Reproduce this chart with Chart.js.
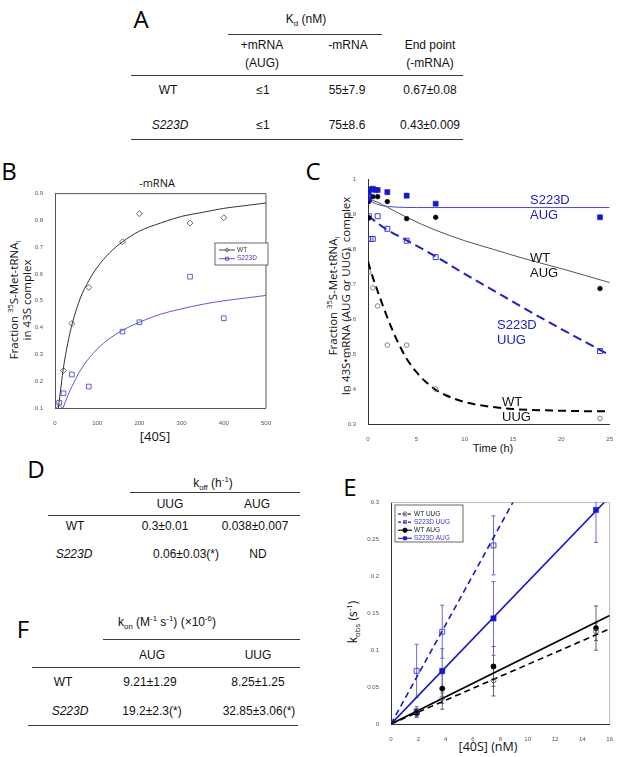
<!DOCTYPE html>
<html>
<head>
<meta charset="utf-8">
<script src="https://cdn.jsdelivr.net/npm/chart.js@4.4.0/dist/chart.umd.min.js"></script>
<style>
body{margin:0;background:#fff;}
#page{position:relative;width:617px;height:757px;overflow:hidden;font-family:'Liberation Sans',Arial,sans-serif;color:#111;}
.t{position:absolute;transform:translate(-50%,-50%);white-space:nowrap;font-size:12px;line-height:18px;text-align:center;}
.L{position:absolute;transform:translate(-50%,-50%);font:24px 'Open Sans',sans-serif;line-height:1;color:#000;}
.r{position:absolute;height:0;border-top:1.6px solid #3a3a3a;}
.cv{position:absolute;}
.rot{position:absolute;transform:translate(-50%,-50%) rotate(-90deg);font-family:'Open Sans',sans-serif;line-height:13px;text-align:center;white-space:nowrap;}
.lb{position:absolute;transform:translateY(-50%);font-size:13px;line-height:15px;white-space:nowrap;}
.blue{color:#2020c4;}
sup,sub{font-size:0.65em;line-height:0;}
</style>
</head>
<body>
<div id="page">

<!-- A -->
<div class="L" style="left:141px;top:19px">A</div>
<div class="t" style="left:306px;top:19px">K<sub>d</sub> (nM)</div>
<div class="r" style="left:228px;top:34px;width:154px"></div>
<div class="t" style="left:262px;top:54px">+mRNA<br>(AUG)</div>
<div class="t" style="left:348px;top:45px">-mRNA</div>
<div class="t" style="left:430px;top:54px">End point<br>(-mRNA)</div>
<div class="r" style="left:131px;top:75px;width:332px"></div>
<div class="t" style="left:168px;top:90px">WT</div>
<div class="t" style="left:263px;top:90px">≤1</div>
<div class="t" style="left:347px;top:90px">55±7.9</div>
<div class="t" style="left:430px;top:90px">0.67±0.08</div>
<div class="t" style="left:170px;top:125px"><i>S223D</i></div>
<div class="t" style="left:263px;top:125px">≤1</div>
<div class="t" style="left:347px;top:125px">75±8.6</div>
<div class="t" style="left:430px;top:125px">0.43±0.009</div>
<div class="r" style="left:131px;top:139px;width:332px"></div>

<!-- B -->
<div class="L" style="left:9px;top:171px">B</div>
<div class="t" style="left:157px;top:183px;font-family:'Open Sans';font-size:11px">-mRNA</div>
<div class="rot" style="left:20px;top:300px;width:160px;height:26px;font-size:11.5px">Fraction <sup>35</sup>S-Met-tRNA<sub>i</sub><br>in 43S complex</div>
<div class="t" style="left:155px;top:436px;font-family:'Open Sans';font-size:13px">[40S]</div>
<canvas id="cB" class="cv" width="250" height="242" style="left:25px;top:186px;width:250px;height:242px"></canvas>

<!-- C -->
<div class="L" style="left:313px;top:171px">C</div>
<div class="rot" style="left:339px;top:296px;width:240px;height:26px;font-size:11.5px">Fraction <sup>35</sup>S-Met-tRNA<sub>i</sub><br>In 43S•mRNA (AUG or UUG)&nbsp; complex</div>
<div class="t" style="left:493px;top:448px;font-size:11px">Time (h)</div>
<canvas id="cC" class="cv" width="277" height="272" style="left:340px;top:172px;width:277px;height:272px"></canvas>
<div class="lb blue" style="left:530px;top:199px">S223D</div>
<div class="lb blue" style="left:530px;top:214px">AUG</div>
<div class="lb" style="left:530px;top:257px">WT</div>
<div class="lb" style="left:530px;top:272px">AUG</div>
<div class="lb blue" style="left:497px;top:324px">S223D</div>
<div class="lb blue" style="left:497px;top:339px">UUG</div>
<div class="lb" style="left:502px;top:401px">WT</div>
<div class="lb" style="left:502px;top:416px">UUG</div>

<!-- D -->
<div class="L" style="left:36px;top:469px">D</div>
<div class="t" style="left:213px;top:483px">k<sub>off</sub> (h<sup>-1</sup>)</div>
<div class="r" style="left:130px;top:492px;width:170px"></div>
<div class="t" style="left:170px;top:504px">UUG</div>
<div class="t" style="left:257px;top:504px">AUG</div>
<div class="r" style="left:48px;top:515px;width:252px"></div>
<div class="t" style="left:75px;top:526px">WT</div>
<div class="t" style="left:165px;top:526px">0.3±0.01</div>
<div class="t" style="left:255px;top:526px">0.038±0.007</div>
<div class="t" style="left:74px;top:554px"><i>S223D</i></div>
<div class="t" style="left:186px;top:554px">0.06±0.03(*)</div>
<div class="t" style="left:258px;top:554px">ND</div>

<!-- E -->
<div class="L" style="left:350px;top:487px">E</div>
<div class="rot" style="left:353px;top:622px;width:70px;height:14px;font-size:12px">k<sub>obs</sub> (s<sup>-1</sup>)</div>
<div class="t" style="left:488px;top:747px;font-family:'Open Sans';font-size:12.5px">[40S] (nM)</div>
<canvas id="cE" class="cv" width="254" height="249" style="left:363px;top:495px;width:254px;height:249px"></canvas>

<!-- F -->
<div class="L" style="left:23px;top:629px">F</div>
<div class="t" style="left:167px;top:622px">k<sub>on</sub> (M<sup>-1</sup> s<sup>-1</sup>) (×10<sup>-6</sup>)</div>
<div class="r" style="left:103px;top:639px;width:197px"></div>
<div class="t" style="left:152px;top:655px">AUG</div>
<div class="t" style="left:258px;top:655px">UUG</div>
<div class="r" style="left:32px;top:667px;width:268px"></div>
<div class="t" style="left:63px;top:682px">WT</div>
<div class="t" style="left:150px;top:682px">9.21±1.29</div>
<div class="t" style="left:258px;top:682px">8.25±1.25</div>
<div class="t" style="left:70px;top:711px"><i>S223D</i></div>
<div class="t" style="left:152px;top:711px">19.2±2.3(*)</div>
<div class="t" style="left:259px;top:711px">32.85±3.06(*)</div>
<div class="r" style="left:28px;top:725px;width:270px"></div>

</div>
<script>
// ---- B: fraction in 43S vs [40S], no mRNA
var bWtX = [10, 20, 40, 80, 160, 200, 320, 400];
var bWtY = [0.10, 0.24, 0.415, 0.55, 0.72, 0.825, 0.79, 0.81];
var bMutX = [10, 20, 40, 80, 160, 200, 320, 400];
var bMutY = [0.12, 0.155, 0.225, 0.18, 0.385, 0.42, 0.59, 0.435];
var bWtFitX = [8, 15, 20, 30, 40, 60, 80, 100, 130, 160, 200, 250, 300, 350, 400, 450, 500];
var bWtFitY = [0.10, 0.19, 0.25, 0.34, 0.41, 0.51, 0.575, 0.625, 0.68, 0.72, 0.76, 0.79, 0.815, 0.83, 0.845, 0.855, 0.865];
var bMutFitX = [19, 30, 40, 60, 80, 100, 130, 160, 200, 250, 300, 350, 400, 450, 500];
var bMutFitY = [0.10, 0.145, 0.18, 0.24, 0.285, 0.32, 0.36, 0.39, 0.42, 0.45, 0.47, 0.487, 0.50, 0.51, 0.52];

// ---- C: dissociation time course (h)
var cMutAugT = [0.083, 0.1, 0.25, 0.5, 0.75, 1, 2, 4, 7, 24];
var cMutAugY = [0.962, 0.945, 0.972, 0.974, 0.97, 0.97, 0.964, 0.954, 0.931, 0.892];
var cWtAugT = [0.083, 0.083, 0.5, 1, 2, 4, 7, 24];
var cWtAugY = [0.937, 0.89, 0.951, 0.951, 0.937, 0.888, 0.892, 0.688];
var cMutUugT = [0.083, 0.25, 0.5, 1, 2, 4, 7, 24];
var cMutUugY = [0.895, 0.83, 0.83, 0.895, 0.859, 0.825, 0.778, 0.509];
var cWtUugT = [0.083, 0.083, 0.5, 1, 2, 4, 7, 24];
var cWtUugY = [0.83, 0.735, 0.69, 0.638, 0.526, 0.526, 0.40, 0.316];
var cMutAugFitT = [0, 0.5, 1, 1.5, 2, 3, 5, 25];
var cMutAugFitY = [0.945, 0.935, 0.929, 0.925, 0.923, 0.921, 0.92, 0.92];
var cWtAugFitT = [0, 1, 2, 4, 7, 10, 13, 16, 20, 25];
var cWtAugFitY = [0.945, 0.935, 0.921, 0.892, 0.855, 0.825, 0.80, 0.775, 0.745, 0.705];
var cMutUugFitT = [0, 1, 2, 4, 7, 10, 13, 16, 20, 24.7];
var cMutUugFitY = [0.897, 0.875, 0.856, 0.826, 0.78, 0.73, 0.682, 0.634, 0.572, 0.502];
var cWtUugFitT = [0, 0.5, 1, 2, 3, 4, 5, 6, 7, 8, 10, 12, 15, 20, 25];
var cWtUugFitY = [0.765, 0.72, 0.68, 0.605, 0.54, 0.487, 0.449, 0.42, 0.398, 0.383, 0.363, 0.352, 0.343, 0.338, 0.336];

// ---- E: kobs vs [40S] (nM)
var eConc = [1.875, 3.75, 7.5, 15];
var eWtUug = [0.017, 0.035, 0.059, 0.125];
var eWtUugErr = [0.004, 0.015, 0.021, 0.012];
var eWtAug = [0.015, 0.048, 0.078, 0.13];
var eWtAugErr = [0.005, 0.02, 0.027, 0.03];
var eMutUugConc = [1.875, 3.75, 7.5];
var eMutUug = [0.072, 0.125, 0.242];
var eMutUugErr = [0.036, 0.036, 0.04];
var eMutAug = [0.016, 0.072, 0.143, 0.29];
var eMutAugErr = [0.0075, 0.03, 0.05, 0.044];
var eFitX = [0, 16];
var eWtUugFit = [0, 0.129];
var eWtAugFit = [0, 0.147];
var eMutUugFitX = [0, 9];
var eMutUugFit = [0, 0.303];
var eMutAugFit = [0, 0.308];

var BLUE = '#1818c8';
var BLUE2 = '#3a3ad2';
Chart.defaults.font.family = 'Liberation Sans';

function pts(xs, ys) {
    return xs.map(function (x, i) { return {x: x, y: ys[i]}; });
}

function mark(ctx, style, x, y, r, fill, stroke, lw) {
    ctx.beginPath();
    if (style === 'circle') {
        ctx.arc(x, y, r, 0, Math.PI * 2);
    } else if (style === 'rect') {
        var s = r * 0.707;
        ctx.rect(x - s, y - s, 2 * s, 2 * s);
    } else {
        ctx.moveTo(x, y - r); ctx.lineTo(x + r, y); ctx.lineTo(x, y + r); ctx.lineTo(x - r, y); ctx.closePath();
    }
    ctx.fillStyle = fill; ctx.fill();
    ctx.strokeStyle = stroke; ctx.lineWidth = lw; ctx.stroke();
}

// legend box drawn inside the plot
function boxLegend(o) {
    return {
        id: 'boxLegend',
        afterDraw: function (chart) {
            var ctx = chart.ctx, ds = chart.data.datasets;
            ctx.save();
            ctx.fillStyle = '#fff';
            ctx.fillRect(o.x, o.y, o.w, o.h);
            ctx.strokeStyle = o.frame; ctx.lineWidth = 0.8;
            ctx.strokeRect(o.x, o.y, o.w, o.h);
            ctx.font = o.font;
            ctx.textBaseline = 'middle';
            o.items.forEach(function (it, i) {
                var y = o.y + o.first + i * o.rowH;
                var ln = ds[it.line], pt = ds[it.mark];
                ctx.setLineDash(ln.borderDash ? o.dash : []);
                ctx.strokeStyle = ln.borderColor; ctx.lineWidth = o.lw;
                ctx.beginPath(); ctx.moveTo(o.x + o.l0, y); ctx.lineTo(o.x + o.l1, y); ctx.stroke();
                ctx.setLineDash([]);
                mark(ctx, pt.pointStyle, o.x + (o.l0 + o.l1) / 2, y, o.r, pt.backgroundColor, pt.borderColor, 0.8);
                ctx.fillStyle = it.color;
                ctx.fillText(it.text, o.x + o.tx, y);
            });
            ctx.restore();
        }
    };
}

// top/right frame lines
function frame(color) {
    return {
        id: 'frame',
        beforeDatasetsDraw: function (chart) {
            var a = chart.chartArea, ctx = chart.ctx;
            ctx.save();
            ctx.strokeStyle = color; ctx.lineWidth = 1;
            ctx.beginPath();
            ctx.moveTo(a.left, a.top); ctx.lineTo(a.right, a.top); ctx.lineTo(a.right, a.bottom);
            ctx.stroke();
            ctx.restore();
        }
    };
}

var errorBars = {
    id: 'errorBars',
    beforeDatasetsDraw: function (chart) {
        var ctx = chart.ctx, xs = chart.scales.x, ys = chart.scales.y, a = chart.chartArea;
        ctx.save();
        ctx.beginPath(); ctx.rect(a.left, a.top - 1, a.right - a.left, a.bottom - a.top + 1); ctx.clip();
        chart.data.datasets.forEach(function (ds) {
            if (!ds.errors) return;
            ctx.strokeStyle = ds.errColor; ctx.lineWidth = 0.9;
            ds.data.forEach(function (p, j) {
                var x = xs.getPixelForValue(p.x);
                var y0 = ys.getPixelForValue(p.y - ds.errors[j]);
                var y1 = ys.getPixelForValue(p.y + ds.errors[j]);
                ctx.beginPath();
                ctx.moveTo(x, y0); ctx.lineTo(x, y1);
                ctx.moveTo(x - 2, y0); ctx.lineTo(x + 2, y0);
                ctx.moveTo(x - 2, y1); ctx.lineTo(x + 2, y1);
                ctx.stroke();
            });
        });
        ctx.restore();
    }
};

function scale(min, max, step, size, border, isY) {
    return {
        type: 'linear', min: min, max: max,
        grid: {display: false},
        border: {display: true, color: border, width: 1},
        ticks: {stepSize: step, autoSkip: false, maxRotation: 0, padding: 4,
                color: '#555', font: {size: 6},
                callback: function (v) { return String(+v.toFixed(3)); }},
        afterFit: function (s) { if (isY) s.width = size; else s.height = size; }
    };
}

function baseOptions(xs, ys, padRight) {
    return {
        responsive: false, animation: false, events: [],
        layout: {padding: {left: 0, top: 7, right: padRight, bottom: 0}},
        plugins: {legend: {display: false}, tooltip: {enabled: false}},
        scales: {x: xs, y: ys}
    };
}

// ---------- chart B
new Chart(document.getElementById('cB'), {
    type: 'scatter',
    data: {datasets: [
        {data: pts(bWtX, bWtY), pointStyle: 'rectRot', pointRadius: 3, borderColor: '#444', backgroundColor: 'rgba(0,0,0,0)', pointBorderWidth: 0.8},
        {data: pts(bMutX, bMutY), pointStyle: 'rect', pointRadius: 3.3, borderColor: BLUE2, backgroundColor: 'rgba(0,0,0,0)', pointBorderWidth: 0.8},
        {data: pts(bWtFitX, bWtFitY), showLine: true, pointRadius: 0, borderColor: '#333', borderWidth: 1, cubicInterpolationMode: 'monotone'},
        {data: pts(bMutFitX, bMutFitY), showLine: true, pointRadius: 0, borderColor: '#4848d4', borderWidth: 0.9, cubicInterpolationMode: 'monotone'}
    ]},
    options: baseOptions(scale(0, 500, 100, 20, '#555', false), scale(0.1, 0.9, 0.1, 30, '#555', true), 5),
    plugins: [frame('#555'), boxLegend({
        x: 190, y: 57, w: 53, h: 22, first: 7, rowH: 8.7, l0: 4, l1: 20, tx: 22, r: 2.2, lw: 0.9,
        frame: '#444', font: '6.5px Liberation Sans', dash: [],
        items: [
            {line: 2, mark: 0, text: 'WT', color: '#333'},
            {line: 3, mark: 1, text: 'S223D', color: BLUE2}
        ]
    })]
});

// ---------- chart C
new Chart(document.getElementById('cC'), {
    type: 'scatter',
    data: {datasets: [
        {data: pts(cMutAugT, cMutAugY), pointStyle: 'rect', pointRadius: 3.6, borderColor: BLUE, backgroundColor: BLUE, pointBorderWidth: 0.5},
        {data: pts(cWtAugT, cWtAugY), pointStyle: 'circle', pointRadius: 2.4, borderColor: '#000', backgroundColor: '#000', pointBorderWidth: 0.5},
        {data: pts(cMutUugT, cMutUugY), pointStyle: 'rect', pointRadius: 3.5, borderColor: BLUE2, backgroundColor: 'rgba(0,0,0,0)', pointBorderWidth: 1},
        {data: pts(cWtUugT, cWtUugY), pointStyle: 'circle', pointRadius: 2.3, borderColor: '#666', backgroundColor: 'rgba(0,0,0,0)', pointBorderWidth: 0.8},
        {data: pts(cMutAugFitT, cMutAugFitY), showLine: true, pointRadius: 0, borderColor: '#4a4ad8', borderWidth: 1, cubicInterpolationMode: 'monotone'},
        {data: pts(cWtAugFitT, cWtAugFitY), showLine: true, pointRadius: 0, borderColor: '#555', borderWidth: 1, cubicInterpolationMode: 'monotone'},
        {data: pts(cMutUugFitT, cMutUugFitY), showLine: true, pointRadius: 0, borderColor: '#1f1fc8', borderWidth: 2, borderDash: [9, 5], cubicInterpolationMode: 'monotone'},
        {data: pts(cWtUugFitT, cWtUugFitY), showLine: true, pointRadius: 0, borderColor: '#000', borderWidth: 2, borderDash: [8, 5], cubicInterpolationMode: 'monotone'}
    ]},
    options: baseOptions(scale(0, 25, 5, 20, '#333', false), scale(0.3, 1, 0.1, 28, '#333', true), 4)
});

// ---------- chart E
new Chart(document.getElementById('cE'), {
    type: 'scatter',
    data: {datasets: [
        {data: pts(eConc, eWtUug), errors: eWtUugErr, errColor: '#555', pointStyle: 'circle', pointRadius: 2.4, borderColor: '#555', backgroundColor: 'rgba(0,0,0,0)', pointBorderWidth: 0.8},
        {data: pts(eMutUugConc, eMutUug), errors: eMutUugErr, errColor: '#5a5ad6', pointStyle: 'rect', pointRadius: 3.5, borderColor: BLUE2, backgroundColor: 'rgba(0,0,0,0)', pointBorderWidth: 0.9},
        {data: pts(eConc, eWtAug), errors: eWtAugErr, errColor: '#555', pointStyle: 'circle', pointRadius: 2.6, borderColor: '#000', backgroundColor: '#000', pointBorderWidth: 0.5},
        {data: pts(eConc, eMutAug), errors: eMutAugErr, errColor: '#5a5ad6', pointStyle: 'rect', pointRadius: 3.7, borderColor: BLUE, backgroundColor: BLUE, pointBorderWidth: 0.5},
        {data: pts(eFitX, eWtUugFit), showLine: true, pointRadius: 0, borderColor: '#000', borderWidth: 1.6, borderDash: [6, 4]},
        {data: pts(eMutUugFitX, eMutUugFit), showLine: true, pointRadius: 0, borderColor: BLUE, borderWidth: 1.6, borderDash: [6, 4]},
        {data: pts(eFitX, eWtAugFit), showLine: true, pointRadius: 0, borderColor: '#000', borderWidth: 1.6},
        {data: pts(eFitX, eMutAugFit), showLine: true, pointRadius: 0, borderColor: BLUE, borderWidth: 1.6}
    ]},
    options: baseOptions(scale(0, 16, 2, 20, '#333', false), scale(0, 0.3, 0.05, 28, '#333', true), 4),
    plugins: [frame('#bbb'), errorBars, boxLegend({
        x: 32, y: 10, w: 68, h: 37, first: 9, rowH: 8.1, l0: 3, l1: 17, tx: 19, r: 2.2, lw: 1.1,
        frame: '#444', font: '6.5px Liberation Sans', dash: [3, 2],
        items: [
            {line: 4, mark: 0, text: 'WT UUG', color: '#222'},
            {line: 5, mark: 1, text: 'S223D UUG', color: BLUE2},
            {line: 6, mark: 2, text: 'WT AUG', color: '#222'},
            {line: 7, mark: 3, text: 'S223D AUG', color: BLUE2}
        ]
    })]
});
</script>
</body>
</html>
